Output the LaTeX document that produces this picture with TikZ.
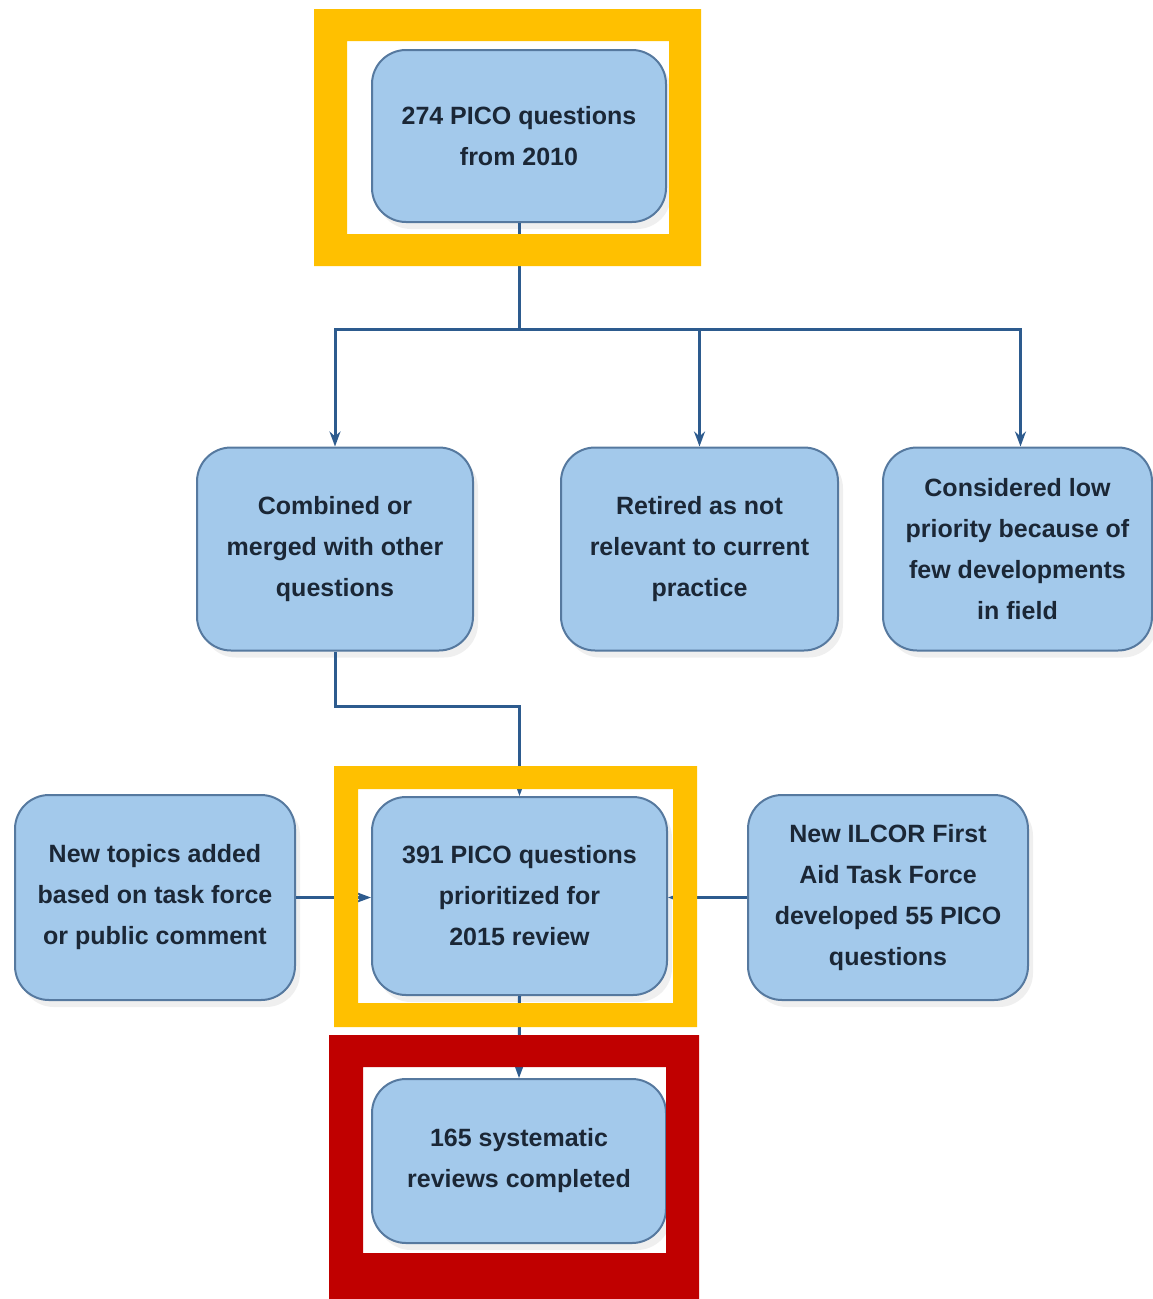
\documentclass[tikz,border=0pt]{standalone}
\usepackage{fontspec}
\setmainfont{Liberation Sans}
\usepackage{xcolor}
\usetikzlibrary{arrows.meta,shadows}
\definecolor{boxfill}{HTML}{A3C9EB}
\definecolor{boxline}{HTML}{56799F}
\definecolor{boxtext}{HTML}{1B2736}
\definecolor{flowline}{HTML}{2D5B8E}
\definecolor{markyellow}{HTML}{FFC000}
\definecolor{markred}{HTML}{C00000}

\begin{document}
\begin{tikzpicture}[x=1pt,y=-1pt,
    pico/.style={draw=boxline,fill=boxfill,line width=2pt,rounded corners=34pt,align=center,inner sep=0pt,
        text=boxtext,font=\fontsize{25}{41}\selectfont\bfseries,
        drop shadow={opacity=0.13,shadow xshift=5pt,shadow yshift=-7pt}},
    flow/.style={draw=flowline,line width=3pt,-{Stealth[length=15pt,width=11pt]}},
    plain/.style={draw=flowline,line width=3pt}]
    \useasboundingbox (0,0) rectangle (1153,1299);
    \node[pico,minimum width=294pt,minimum height=172pt] (pico274) at (519,136) {274 PICO questions\\from 2010};
    \node[pico,minimum width=276pt,minimum height=203pt] (comb) at (335,549) {Combined or\\merged with other\\questions};
    \node[pico,minimum width=277pt,minimum height=203pt] (retired) at (699.5,549) {Retired as not\\relevant to current\\practice};
    \node[pico,minimum width=269pt,minimum height=203pt] (low) at (1017.5,549) {Considered low\\priority because of\\few developments\\in field};
    \node[pico,minimum width=295pt,minimum height=198pt] (pico391) at (519.5,896) {391 PICO questions\\prioritized for\\2015 review};
    \node[pico,minimum width=280pt,minimum height=205pt] (newtop) at (155,897.5) {New topics added\\based on task force\\or public comment};
    \node[pico,minimum width=280pt,minimum height=205pt] (ilcor) at (888,897.5) {New ILCOR First\\Aid Task Force\\developed 55 PICO\\questions};
    \node[pico,minimum width=294pt,minimum height=164pt] (done) at (519,1161) {165 systematic\\reviews completed};
    \coordinate (split) at (519,329);
    \draw[plain] (pico274.south) -- (split);
    \draw[flow] (split) -| (comb.north);
    \draw[flow] (split) -| (retired.north);
    \draw[flow] (split) -| ([xshift=3pt]low.north);
    \draw[flow] (comb.south) -- ++(0,55) -| (pico391.north);
    \draw[flow] (newtop.east) -- (newtop.east -| pico391.west);
    \draw[flow] (ilcor.west) -- (ilcor.west -| pico391.east);
    \draw[flow] (pico391.south) -- (done.north);
    \fill[markyellow,even odd rule] (314,9) rectangle (701,266) (347,41) rectangle (669,234);
    \fill[markyellow,even odd rule] (334,766) rectangle (697,1027) (358,789) rectangle (673,1003);
    \fill[markred,even odd rule] (329,1035) rectangle (699,1299) (363,1067) rectangle (666,1253);
\end{tikzpicture}
\end{document}
